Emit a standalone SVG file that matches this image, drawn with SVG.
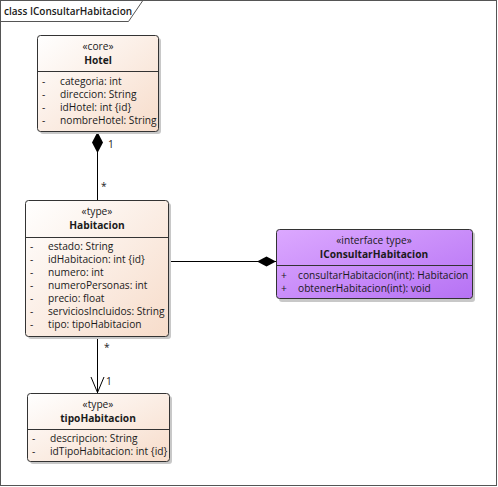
<svg xmlns="http://www.w3.org/2000/svg" width="498" height="487" viewBox="0 0 498 487">
<style>
text{font-family:"Open Sans","Liberation Sans",sans-serif;font-size:10.2px;fill:#1a1a1a}
.st{text-anchor:middle}
.nm{text-anchor:middle;font-weight:bold}
.box{fill:url(#peach);stroke:#333;stroke-width:1}
.ibox{fill:url(#purp);stroke:#333;stroke-width:1}
.sh{fill:#c8c8c8}
.div{stroke:#333;stroke-width:1}
.ln{stroke:#000;stroke-width:1;fill:none}
</style>
<defs>
<linearGradient id="peach" x1="0" y1="0" x2="1" y2="1">
<stop offset="0" stop-color="#FFFFFF"/>
<stop offset="1" stop-color="#F7DCCA"/>
</linearGradient>
<linearGradient id="purp" x1="0" y1="0" x2="1" y2="1">
<stop offset="0" stop-color="#DCA8FF"/>
<stop offset="1" stop-color="#B672F4"/>
</linearGradient>
</defs>
<rect x="0" y="0" width="498" height="487" fill="#fff"/>
<g id="frame">
<rect x="0.5" y="0.5" width="496" height="485" fill="none" stroke="#555"/>
<path d="M0.5,21.5 H128.5 L142.5,1" fill="none" stroke="#555"/>
<text x="4" y="15" style="font-size:10px;font-weight:600">class IConsultarHabitacion</text>
</g>
<g id="connectors">
<line class="ln" x1="97.5" y1="131" x2="97.5" y2="200"/>
<polygon points="97.5,132 103,142.5 97.5,153 92,142.5" fill="#000"/>
<text x="108" y="148">1</text>
<text x="101" y="190">*</text>
<line class="ln" x1="168" y1="261.5" x2="276" y2="261.5"/>
<polygon points="276,261.5 266.5,256.5 257,261.5 266.5,266.5" fill="#000"/>
<line class="ln" x1="97.5" y1="336" x2="97.5" y2="393"/>
<polyline class="ln" points="91,377 97.5,392.5 104,377"/>
<text x="104" y="351">*</text>
<text x="106" y="385">1</text>
</g>
<g id="Hotel">
<rect class="sh" x="40" y="38" width="121" height="96" rx="3"/>
<rect class="box" x="37.5" y="35.5" width="121" height="96" rx="3"/>
<line class="div" x1="37.5" y1="71.5" x2="158.5" y2="71.5"/>
<text class="st" x="98" y="50">«core»</text>
<text class="nm" x="98" y="64">Hotel</text>
<text x="42" y="85">-</text><text x="60" y="85">categoria: int</text>
<text x="42" y="98">-</text><text x="60" y="98">direccion: String</text>
<text x="42" y="111">-</text><text x="60" y="111">idHotel: int {id}</text>
<text x="42" y="124">-</text><text x="60" y="124">nombreHotel: String</text>
</g>
<g id="Habitacion">
<rect class="sh" x="28" y="203" width="143" height="136" rx="3"/>
<rect class="box" x="25.5" y="200.5" width="143" height="136" rx="3"/>
<line class="div" x1="25.5" y1="237.5" x2="168.5" y2="237.5"/>
<text class="st" x="97" y="215">«type»</text>
<text class="nm" x="97" y="229">Habitacion</text>
<text x="30" y="250">-</text><text x="48" y="250">estado: String</text>
<text x="30" y="263">-</text><text x="48" y="263">idHabitacion: int {id}</text>
<text x="30" y="276">-</text><text x="48" y="276">numero: int</text>
<text x="30" y="289">-</text><text x="48" y="289">numeroPersonas: int</text>
<text x="30" y="302">-</text><text x="48" y="302">precio: float</text>
<text x="30" y="315">-</text><text x="48" y="315">serviciosIncluidos: String</text>
<text x="30" y="328">-</text><text x="48" y="328">tipo: tipoHabitacion</text>
</g>
<g id="IConsultarHabitacion">
<rect class="sh" x="279" y="232" width="196" height="70" rx="3"/>
<rect class="ibox" x="276.5" y="229.5" width="196" height="69" rx="3"/>
<line class="div" x1="276.5" y1="265.5" x2="472.5" y2="265.5"/>
<text class="st" x="374" y="244">«interface type»</text>
<text class="nm" x="374" y="258">IConsultarHabitacion</text>
<text x="281" y="279">+</text><text x="298" y="279">consultarHabitacion(int): Habitacion</text>
<text x="281" y="292">+</text><text x="298" y="292">obtenerHabitacion(int): void</text>
</g>
<g id="tipoHabitacion">
<rect class="sh" x="30" y="396" width="142" height="68" rx="3"/>
<rect class="box" x="27.5" y="393.5" width="142" height="68" rx="3"/>
<line class="div" x1="27.5" y1="429.5" x2="169.5" y2="429.5"/>
<text class="st" x="98" y="408">«type»</text>
<text class="nm" x="98" y="422">tipoHabitacion</text>
<text x="32" y="442">-</text><text x="50" y="442">descripcion: String</text>
<text x="32" y="455">-</text><text x="50" y="455">idTipoHabitacion: int {id}</text>
</g>
</svg>
